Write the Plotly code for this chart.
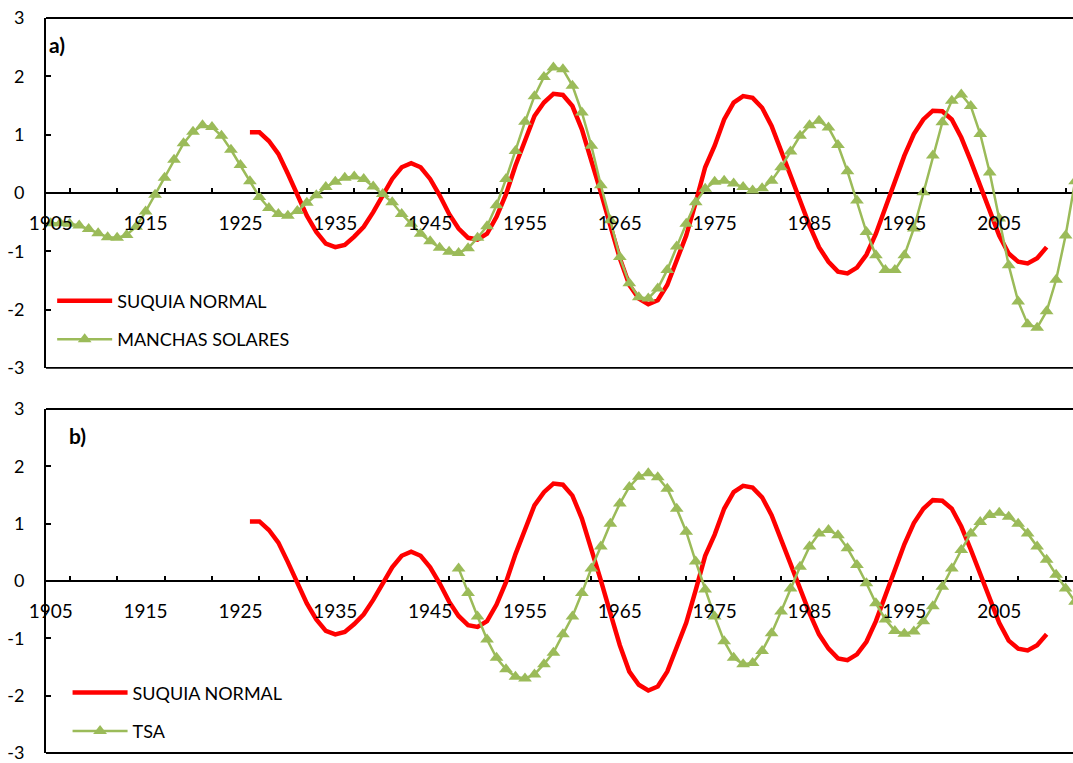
import plotly.graph_objects as go

# ---- data -------------------------------------------------------------
suquia_years = list(range(1926, 2011))
suquia_normal = [
    1.04, 1.04, 0.89, 0.67, 0.33, -0.04, -0.39, -0.67, -0.87, -0.93,   # 1926-1935
    -0.89, -0.75, -0.58, -0.33, -0.04, 0.24, 0.44, 0.51, 0.44, 0.24,    # 1936-1945
    -0.04, -0.36, -0.61, -0.77, -0.80, -0.70, -0.41, -0.02, 0.47, 0.92, # 1946-1955
    1.32, 1.55, 1.70, 1.68, 1.49, 1.09, 0.58, 0.01, -0.56, -1.12,       # 1956-1965
    -1.58, -1.81, -1.91, -1.84, -1.58, -1.18, -0.73, -0.16, 0.44, 0.81, # 1966-1975
    1.26, 1.55, 1.66, 1.63, 1.46, 1.15, 0.75, 0.30, -0.13, -0.56,       # 1976-1985
    -0.93, -1.18, -1.35, -1.38, -1.28, -1.06, -0.70, -0.24, 0.21, 0.64, # 1986-1995
    1.01, 1.26, 1.41, 1.40, 1.26, 0.95, 0.55, 0.13, -0.33, -0.73,       # 1996-2005
    -1.04, -1.18, -1.21, -1.12, -0.93,                                  # 2006-2010
]

manchas_years = list(range(1905, 2014))
manchas_solares = [
    -0.52, -0.52, -0.53, -0.56, -0.62, -0.69, -0.76, -0.77, -0.72, -0.58,  # 1905-1914
    -0.32, -0.03, 0.26, 0.57, 0.85, 1.05, 1.16, 1.13, 0.98, 0.74,          # 1915-1924
    0.48, 0.20, -0.07, -0.26, -0.36, -0.39, -0.31, -0.17, -0.04, 0.10,     # 1925-1934
    0.19, 0.26, 0.28, 0.24, 0.11, -0.02, -0.16, -0.36, -0.53, -0.70,       # 1935-1944
    -0.83, -0.94, -1.01, -1.03, -0.95, -0.77, -0.57, -0.21, 0.24, 0.72,    # 1945-1954
    1.22, 1.66, 1.99, 2.15, 2.12, 1.84, 1.38, 0.81, 0.13, -0.47,           # 1955-1964
    -1.10, -1.55, -1.79, -1.81, -1.64, -1.32, -0.92, -0.53, -0.16, 0.07,   # 1965-1974
    0.19, 0.21, 0.16, 0.10, 0.04, 0.08, 0.21, 0.44, 0.71, 0.98,            # 1975-1984
    1.16, 1.24, 1.12, 0.82, 0.37, -0.13, -0.67, -1.07, -1.32, -1.32,       # 1985-1994
    -1.07, -0.61, 0.01, 0.64, 1.21, 1.58, 1.69, 1.49, 1.01, 0.35,          # 1995-2004
    -0.44, -1.24, -1.86, -2.25, -2.31, -2.03, -1.49, -0.73, 0.20,          # 2005-2013
]

tsa_years = list(range(1948, 2014))
tsa = [
    0.22, -0.21,                                                        # 1948-1949
    -0.62, -1.02, -1.34, -1.54, -1.67, -1.70, -1.63, -1.45, -1.25, -0.93,  # 1950-1959
    -0.62, -0.21, 0.22, 0.60, 1.00, 1.35, 1.64, 1.82, 1.88, 1.81,          # 1960-1969
    1.61, 1.26, 0.86, 0.34, -0.15, -0.62, -1.05, -1.34, -1.45, -1.43,      # 1970-1979
    -1.22, -0.91, -0.53, -0.13, 0.25, 0.60, 0.83, 0.89, 0.80, 0.57,        # 1980-1989
    0.28, -0.04, -0.39, -0.67, -0.87, -0.92, -0.88, -0.70, -0.44, -0.10,   # 1990-1999
    0.22, 0.54, 0.83, 1.03, 1.15, 1.19, 1.12, 1.00, 0.83, 0.60,            # 2000-2009
    0.37, 0.11, -0.13, -0.36,                                           # 2010-2013
]

label_years = list(range(1905, 2015, 10))
minor_tick_years = list(range(1907, 2015, 5))
y_ticks = [-3, -2, -1, 0, 1, 2, 3]
y_tick_text = ["-3", "-2", "-1", "0", "1", "2", "3"]

# ---- styling ----------------------------------------------------------
FONT = "Lato"
RED = "#FF0000"
GREEN = "#9BBB59"
X_RANGE = [1904.5, 2012.78]
TOP_DOMAIN = [0.524, 1.0]
BOT_DOMAIN = [0.0, 0.468]

fig = go.Figure()

# panel a)
fig.add_trace(go.Scatter(
    x=suquia_years, y=suquia_normal, name="SUQUIA NORMAL", mode="lines",
    line=dict(color=RED, width=4.5), xaxis="x", yaxis="y",
    legend="legend", legendgroup="a1"))
fig.add_trace(go.Scatter(
    x=manchas_years, y=manchas_solares, name="MANCHAS SOLARES", mode="lines+markers",
    line=dict(color=GREEN, width=2.5),
    marker=dict(symbol="triangle-up", size=12, color=GREEN),
    xaxis="x", yaxis="y", legend="legend", legendgroup="a2"))

# panel b)
fig.add_trace(go.Scatter(
    x=suquia_years, y=suquia_normal, name="SUQUIA NORMAL", mode="lines",
    line=dict(color=RED, width=4.5), xaxis="x2", yaxis="y2",
    legend="legend2", legendgroup="b1"))
fig.add_trace(go.Scatter(
    x=tsa_years, y=tsa, name="TSA", mode="lines+markers",
    line=dict(color=GREEN, width=2.5),
    marker=dict(symbol="triangle-up", size=12, color=GREEN),
    xaxis="x2", yaxis="y2", legend="legend2", legendgroup="b2"))


def x_axis(domain):
    # year axis drawn along y = 0, labels hanging below it
    mid = (domain[0] + domain[1]) / 2
    return dict(
        range=X_RANGE, anchor="free", position=mid,
        showline=False, showgrid=False, zeroline=False,
        tickmode="array", tickvals=label_years, ticktext=[str(v) for v in label_years],
        ticks="", ticklabelstandoff=17, ticklabeloverflow="allow",
        tickfont=dict(family=FONT, size=19, color="black"),
        minor=dict(tickmode="array", tickvals=minor_tick_years, ticks="inside",
                   ticklen=5, tickwidth=1.5, tickcolor="black"),
    )


def y_axis(domain, anchor):
    return dict(
        domain=domain, range=[-3, 3], anchor=anchor,
        tickmode="array", tickvals=y_ticks, ticktext=y_tick_text,
        ticks="inside", ticklen=5, tickwidth=1.5, tickcolor="black",
        ticklabelstandoff=16, ticklabeloverflow="allow",
        showline=True, linecolor="black", linewidth=1.8,
        showgrid=False, zeroline=True, zerolinecolor="black", zerolinewidth=1.8,
        tickfont=dict(family=FONT, size=18, color="black"),
    )


# frame lines (top and bottom edges of each plot area)
shapes = []
for xr, yr in (("x domain", "y domain"), ("x2 domain", "y2 domain")):
    for yy in (0, 1):
        shapes.append(dict(type="line", xref=xr, yref=yr, x0=0, x1=1, y0=yy, y1=yy,
                           line=dict(color="black", width=1.8)))

legend_style = dict(
    font=dict(family=FONT, size=18, color="black"),
    bgcolor="rgba(0,0,0,0)", borderwidth=0, itemwidth=55,
    tracegroupgap=12, xanchor="left", yanchor="top",
)

fig.update_layout(
    width=1073, height=763,
    margin=dict(l=46, r=0, t=18, b=5),
    paper_bgcolor="white", plot_bgcolor="white",
    xaxis=x_axis(TOP_DOMAIN), yaxis=y_axis(TOP_DOMAIN, "x"),
    xaxis2=x_axis(BOT_DOMAIN), yaxis2=y_axis(BOT_DOMAIN, "x2"),
    shapes=shapes,
    legend=dict(legend_style, x=0.006, y=0.64),
    legend2=dict(legend_style, x=0.021, y=0.107),
    annotations=[
        dict(text="<b>a)</b>", xref="paper", yref="paper", x=0.001, y=0.9635,
             xanchor="left", yanchor="middle", showarrow=False,
             font=dict(family=FONT, size=21, color="black")),
        dict(text="<b>b)</b>", xref="paper", yref="paper", x=0.02, y=0.4324,
             xanchor="left", yanchor="middle", showarrow=False,
             font=dict(family=FONT, size=21, color="black")),
    ],
)

fig.write_html("out.html")
